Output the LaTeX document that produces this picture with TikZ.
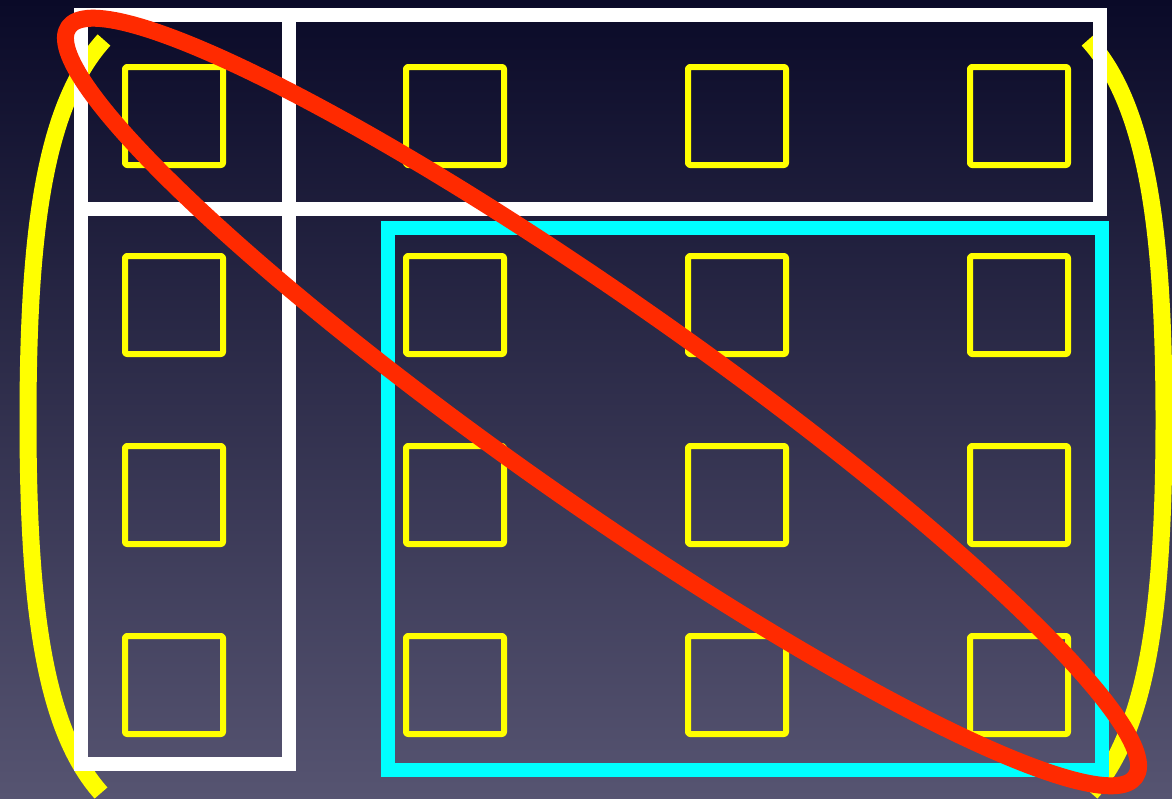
\documentclass[tikz,border=0pt]{standalone}
\usetikzlibrary{calc}
\definecolor{bgtop}{HTML}{0A0A28}
\definecolor{bgbottom}{HTML}{565471}
\definecolor{entrycolor}{HTML}{FFFF00}
\definecolor{blockcolor}{HTML}{00FFFF}
\definecolor{diagcolor}{HTML}{FF2A00}

\begin{document}
\begin{tikzpicture}[x=1pt,y=-1pt,line cap=round,line join=round,
    entry/.style={draw=entrycolor,line width=6pt,minimum size=98pt,inner sep=0pt,rounded corners=2pt},
    bracket/.style={draw=entrycolor,line width=17pt,line cap=butt},
    frame/.style={line width=14pt,line join=miter}]
  \useasboundingbox (0,0) rectangle (1172,798);
  \clip (0,0) rectangle (1172,798);
  \shade[top color=bgtop,bottom color=bgbottom] (0,0) rectangle (1172,798);
  % brackets of the matrix
  \draw[bracket] (104,40) .. controls (45,105) and (28,230) .. (28,420) .. controls (28,610) and (45,730) .. (101,793);
  \draw[bracket] (1088,40) .. controls (1147,105) and (1164,230) .. (1164,420) .. controls (1164,610) and (1147,730) .. (1091,793);
  % entries
  \foreach \col/\x in {1/174,2/455,3/737,4/1019}{
    \foreach \row/\y in {1/116,2/305,3/495,4/685}{\node[entry] (e\row\col) at (\x,\y) {};}
  }
  % first column, first row, remaining block
  \draw[frame,white] (81,15) rectangle (289,764);
  \draw[frame,white] (81,15) rectangle (1100,209);
  \draw[frame,blockcolor] (388,228) rectangle (1102,770);
  % diagonal
  \draw[diagcolor,line width=17pt,rotate around={-35.1:(602,402)}] (602,402) ellipse[x radius=652,y radius=100];
\end{tikzpicture}
\end{document}
